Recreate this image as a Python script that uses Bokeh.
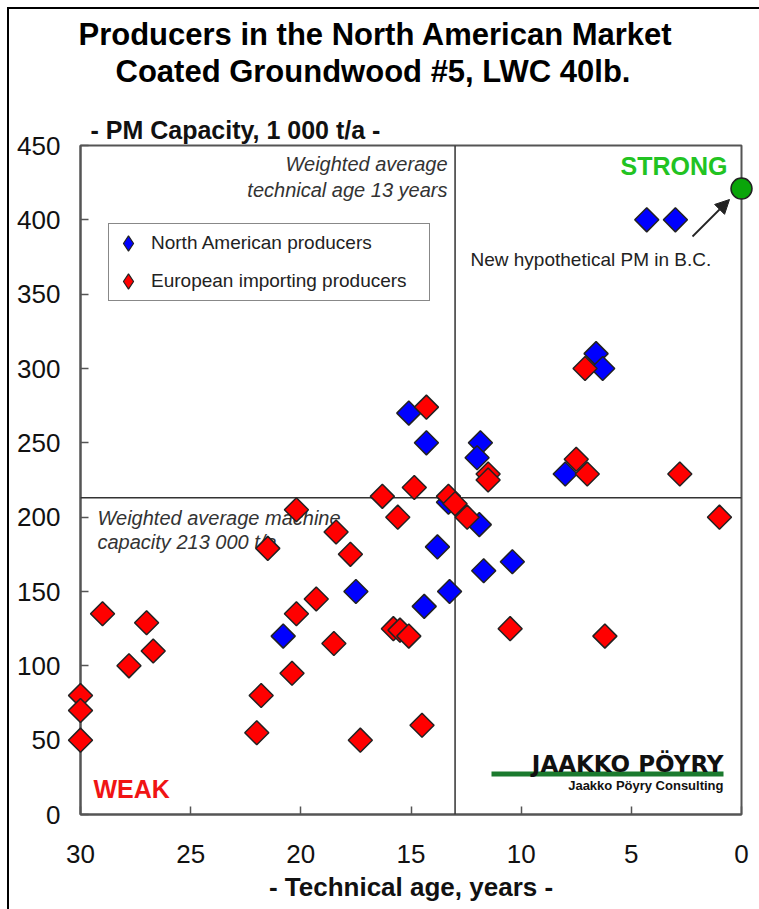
import numpy as np
from bokeh.plotting import figure
from bokeh.models import (Range1d, FixedTicker, Span, Label, Arrow, NormalHead, Title,
                          Legend, LegendItem)
from bokeh.embed import file_html
from bokeh.resources import INLINE

# ---- data ----
na_age = [4.3, 3.0, 6.6, 6.3, 15.1, 14.3, 11.85, 12.0, 8.0, 13.3, 11.9, 13.8, 10.4, 11.7, 13.25, 17.5, 14.4, 20.8]
na_cap = [400, 400, 310, 300, 270, 250, 250, 240, 229, 210, 195, 180, 170, 164, 150, 150, 140, 120]

eu_age = [14.3, 7.1, 7.5, 7.0, 2.8, 11.5, 11.5, 1.0, 13.3, 13.0, 12.45, 16.3, 14.85, 15.6,
          20.2, 18.4, 17.75, 21.5, 19.3, 20.2, 29.0, 27.0, 26.7, 27.8, 30.0, 30.0, 30.0,
          21.8, 22.0, 20.4, 18.5, 17.3, 14.5, 15.8, 15.5, 15.1, 10.5, 6.2]
eu_cap = [274, 300, 239, 229, 229, 229, 225, 200, 214, 209, 200, 214, 220, 200,
          205, 190, 175, 179, 145, 135, 135, 129, 110, 100, 80, 70, 50,
          80, 55, 95, 115, 50, 60, 125, 124, 120, 125, 120]

new_age = [0.0]
new_cap = [421]

avg_age = 13
avg_cap = 213

x_ticks = [30, 25, 20, 15, 10, 5, 0]
y_ticks = [0, 50, 100, 150, 200, 250, 300, 350, 400, 450]

# ---- layout helpers (pixel -> data) ----
W, H = 759, 909
FL, FR, FT, FB = 80, 741, 145, 814
XMAX, XMIN, YMIN, YMAX = 30, 0, 0, 450


def dx(px):
    return XMAX - (px - FL) * (XMAX - XMIN) / (FR - FL)


def dy(py):
    return (FB - py) * (YMAX - YMIN) / (FB - FT)


FONT = "Liberation Sans"

p = figure(width=W, height=H, output_backend="svg", toolbar_location=None,
           x_range=Range1d(XMAX, XMIN), y_range=Range1d(YMIN, YMAX),
           min_border_left=FL, min_border_right=W - FR,
           min_border_top=FT, min_border_bottom=H - FB)
p.title.visible = False
p.xgrid.visible = False
p.ygrid.visible = False
p.outline_line_color = "#555555"
p.outline_line_width = 2
p.background_fill_color = "white"
p.border_fill_color = "white"
p.stylesheets = [":host { position: relative; } "
                 ":host::after { content: ''; position: absolute; left: 7px; top: 7px; "
                 "right: 0; bottom: 0; border-left: 2px solid #000; border-top: 2px solid #000; "
                 "pointer-events: none; }"]

for ax, ticks in ((p.xaxis, x_ticks), (p.yaxis, y_ticks)):
    ax.ticker = FixedTicker(ticks=ticks)
    ax.axis_line_color = "#555555"
    ax.axis_line_width = 2
    ax.major_tick_in = 8
    ax.major_tick_out = 0
    ax.major_tick_line_color = "#555555"
    ax.major_tick_line_width = 1.5
    ax.minor_tick_line_color = None
    ax.major_label_text_font = FONT
    ax.major_label_text_font_size = "26px"
    ax.major_label_text_color = "#111111"
p.yaxis.major_label_standoff = 20
p.xaxis.major_label_standoff = 30
p.xaxis.axis_label = "- Technical age, years -"
p.xaxis.axis_label_text_font = FONT
p.xaxis.axis_label_text_font_size = "26px"
p.xaxis.axis_label_text_font_style = "bold"
p.xaxis.axis_label_text_color = "#111111"
p.xaxis.axis_label_standoff = 6

# titles stacked upward from the frame
p.add_layout(Title(text="- PM Capacity, 1 000 t/a -", align="left", offset=10,
                   text_font=FONT, text_font_size="25px", text_font_style="bold",
                   text_color="#111111", standoff=4), "above")
p.add_layout(Title(text=" ", align="left", text_font_size="1px", standoff=20), "above")
p.add_layout(Title(text="Coated Groundwood #5, LWC 40lb.", align="left", offset=35,
                   text_font=FONT, text_font_size="31px", text_font_style="bold",
                   text_color="#000000", standoff=0), "above")
p.add_layout(Title(text="Producers in the North American Market", align="left", offset=-2,
                   text_font=FONT, text_font_size="31px", text_font_style="bold",
                   text_color="#000000", standoff=0), "above")

# quadrant lines
p.add_layout(Span(location=avg_age, dimension="height", line_color="#333333", line_width=1.5))
p.add_layout(Span(location=avg_cap, dimension="width", line_color="#333333", line_width=1.5))

# points
ang = np.pi / 4
r_na = p.scatter(na_age, na_cap, marker="square", angle=ang, size=17, fill_color="#0000ff",
                 line_color="#222222", line_width=1.5, level="overlay")
r_eu = p.scatter(eu_age, eu_cap, marker="square", angle=ang, size=17, fill_color="#ff0000",
                 line_color="#222222", line_width=1.5, level="overlay")
r_new = p.scatter(new_age, new_cap, marker="circle", size=21, fill_color="#0aa50a",
                  line_color="#222222", line_width=1.5, level="overlay")

# legend swatches: hidden diamond renderers over the same data
leg_na = p.scatter(na_age, na_cap, marker="diamond", fill_color="#0000ff",
                   line_color="#222222", line_width=1.2, visible=False)
leg_eu = p.scatter(eu_age, eu_cap, marker="diamond", fill_color="#ff0000",
                   line_color="#222222", line_width=1.2, visible=False)

lg = Legend(items=[LegendItem(label="North American producers", renderers=[leg_na]),
                   LegendItem(label="European importing producers", renderers=[leg_eu])])
lg.location = (108 - FL, FB - 301)
lg.border_line_color = "#111111"
lg.border_line_width = 1.2
lg.background_fill_alpha = 1
lg.label_text_font = FONT
lg.label_text_font_size = "19px"
lg.label_text_color = "#222222"
lg.glyph_height = 38
lg.glyph_width = 38
lg.label_height = 38
lg.spacing = 0
lg.padding = 0
lg.margin = 0
lg.label_standoff = 4
lg.label_width = 278
p.add_layout(lg, "center")

# arrow to the new PM
p.add_layout(Arrow(end=NormalHead(size=14, fill_color="#222222", line_color="#222222"),
                   x_start=dx(692), y_start=dy(236), x_end=dx(729), y_end=dy(199),
                   line_color="#222222", line_width=1.8))


def lab(x, y, text, size, align="left", bold=False, italic=False, color="#111111", font=FONT):
    style = "normal"
    if bold:
        style = "bold"
    elif italic:
        style = "italic"
    p.add_layout(Label(x=dx(x), y=dy(y), text=text, text_font=font, text_font_size=size,
                       text_font_style=style, text_color=color, text_align=align,
                       text_baseline="middle"))


# annotations
lab(447, 163, "Weighted average", "20px", "right", italic=True, color="#333333")
lab(447, 189, "technical age 13 years", "20px", "right", italic=True, color="#333333")
lab(97, 517, "Weighted average machine", "20px", "left", italic=True, color="#333333")
lab(97, 541, "capacity 213 000 t/a", "20px", "left", italic=True, color="#333333")
lab(727, 165, "STRONG", "25px", "right", bold=True, color="#22c322")
lab(93, 788, "WEAK", "25px", "left", bold=True, color="#f01414")
lab(470, 259, "New hypothetical PM in B.C.", "19px", "left", color="#222222")

# logo
lab(723, 763, "JAAKKO PÖYRY", "23px", "right", bold=True, color="#111111", font="DejaVu Sans")
p.line([dx(491), dx(723)], [dy(773.5), dy(773.5)], line_color="#1b7a2e", line_width=5)
lab(723, 785, "Jaakko Pöyry Consulting", "13px", "right", bold=True, color="#111111")

open("out.html", "w").write(file_html(p, INLINE))
